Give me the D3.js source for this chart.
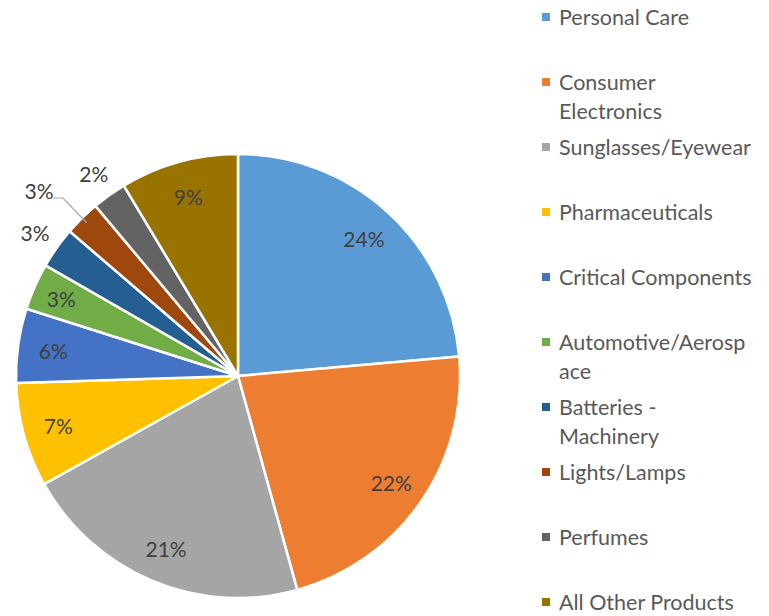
<!DOCTYPE html>
<html><head><meta charset="utf-8">
<script src="https://cdn.jsdelivr.net/npm/d3@7"></script>
<style>body{margin:0;background:#fff;}svg{display:block;font-family:Lato,"Open Sans",sans-serif;}</style>
</head><body>
<svg id="c" width="769" height="616"></svg>
<script>
const categories = ["Personal Care","Consumer Electronics","Sunglasses/Eyewear","Pharmaceuticals","Critical Components","Automotive/Aerospace","Batteries - Machinery","Lights/Lamps","Perfumes","All Other Products"];
const legendLines = [["Personal Care"],["Consumer","Electronics"],["Sunglasses/Eyewear"],["Pharmaceuticals"],["Critical Components"],["Automotive/Aerosp","ace"],["Batteries -","Machinery"],["Lights/Lamps"],["Perfumes"],["All Other Products"]];
const values = [23.6,22.1,21.2,7.6,5.4,3.4,3.0,2.6,2.5,8.6];
const labels = ["24%","22%","21%","7%","6%","3%","3%","3%","2%","9%"];
const colors = ["#5B9BD5","#ED7D31","#A5A5A5","#FFC000","#4472C4","#70AD47","#255E91","#9E480E","#636363","#997300"];

const svg = d3.select("#c");
const cx = 238, cy = 376, R = 222;
const pie = d3.pie().sort(null).value(d=>d);
const arcs = pie(values);
const arc = d3.arc().innerRadius(0).outerRadius(R);
const g = svg.append("g").attr("transform",`translate(${cx},${cy})`);
g.selectAll("path").data(arcs).join("path")
  .attr("d",arc).attr("fill",(d,i)=>colors[i])
  .attr("stroke","#fff").attr("stroke-width",2.5).attr("stroke-linejoin","round");

const inner = d3.arc().innerRadius(R*0.84).outerRadius(R*0.84);
const outsideIdx = {6:1.12, 8:1.12};
arcs.forEach((d,i)=>{
  let p;
  if (outsideIdx[i]) {
    const r = R*outsideIdx[i];
    p = d3.arc().innerRadius(r).outerRadius(r).centroid(d);
  } else if (i===5) {
    p = d3.arc().innerRadius(R*0.87).outerRadius(R*0.87).centroid(d);
  } else {
    p = inner.centroid(d);
  }
  if (i===7) {
    const a = (d.startAngle+d.endAngle)/2;
    const e = [ (R*0.97)*Math.sin(a), -(R*0.97)*Math.cos(a) ];
    const lx = -185, ly = -178;
    g.append("path").attr("d",`M${lx},${ly} L${lx+10},${ly} L${e[0]},${e[1]}`)
      .attr("fill","none").attr("stroke","#A6A6A6").attr("stroke-width",1.2);
    p = [lx-14, ly-8];
  }
  g.append("text").attr("x",p[0]).attr("y",p[1]).attr("text-anchor","middle")
   .attr("dominant-baseline","central").attr("fill","#404040").attr("font-size",21)
   .text(labels[i]);
});

const lg = svg.append("g");
categories.forEach((c,i)=>{
  const y = 17 + i*65;
  lg.append("rect").attr("x",542).attr("y",y-4).attr("width",8).attr("height",8).attr("fill",colors[i]);
  legendLines[i].forEach((t,j)=>{
    lg.append("text").attr("x",559).attr("y",y+j*29).attr("dominant-baseline","central")
      .attr("fill","#595959").attr("font-size",21.5).text(t);
  });
});
</script>
</body></html>
